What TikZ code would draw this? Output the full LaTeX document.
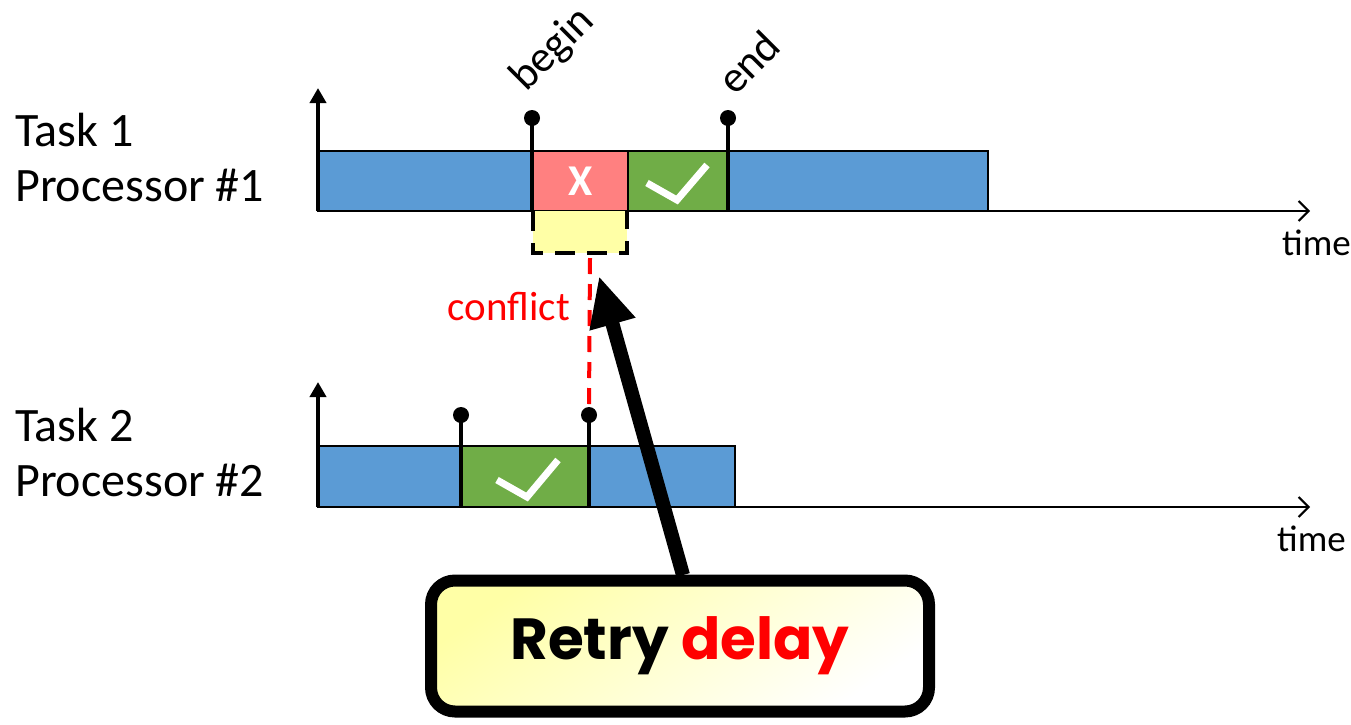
\documentclass[tikz,border=0pt]{standalone}
\usepackage{fontspec}
\setmainfont{Carlito}
\newfontfamily\pop{Poppins}
\usetikzlibrary{arrows.meta,shadows}
\definecolor{bblue}{HTML}{5B9BD5}
\definecolor{rred}{HTML}{FF8080}
\definecolor{ggreen}{HTML}{70AD47}
\definecolor{yfill}{HTML}{FFFFA6}
\begin{document}
\begin{tikzpicture}[x=1pt,y=-1pt,
  bar/.style={draw=black,line width=2pt},
  axis/.style={line width=2pt,-{Straight Barb[length=10pt,width=20pt,line width=2pt]}},
  yaxis/.style={line width=4pt,-{Triangle[length=15pt,width=16pt]}},
  pin/.style={line width=4pt},
  pinhead/.style={circle,fill=black,inner sep=0pt,minimum size=16pt},
  check/.style={white,line width=7pt},
  lbl/.style={font=\fontsize{48}{52}\selectfont,anchor=base west,inner sep=0pt},
  tlbl/.style={font=\fontsize{37}{40}\selectfont,anchor=base west,inner sep=0pt},
  rlbl/.style={font=\fontsize{44}{48}\selectfont,anchor=base west,inner sep=0pt,rotate=45}]
\useasboundingbox (0,0) rectangle (1351,724);
% Task 1
\node[lbl] (t1) at (15,146) {Task 1};
\node[lbl] (p1) at (15,201) {Processor \#1};
\fill[bblue] (318,151) rectangle (988,211);
\fill[rred] (532,151) rectangle (628,211);
\fill[ggreen] (628,151) rectangle (728,211);
\draw[bar] (318,151) rectangle (988,211);
\draw[line width=2pt] (628,151) -- (628,211);
\draw[axis] (318,211) -- (1310,211);
\draw[yaxis] (318,211) -- (318,88);
\node[tlbl] (time1) at (1282,255) {time};
% conflict box
\fill[yfill] (533,211) rectangle (627,253);
\draw[line width=4pt,dash pattern=on 20pt off 12pt] (533,211) -- (533,253) -- (627,253) -- (627,211);
\coordinate (cfl) at (590,253);
% pins task1
\node[pinhead] (b1) at (532,118) {};
\node[pinhead] (e1) at (728,118) {};
\draw[pin] (b1.center) -- (532,211);
\draw[pin] (e1.center) -- (728,211);
\node[font=\bfseries\fontsize{44}{48}\selectfont,white] (x) at (581,181) {X};
\draw[check] (647,183) -- (677,200) -- (707,165);
\node[rlbl] (begin) at (526,93) {begin};
\node[rlbl] (end) at (735,97) {end};
% Task 2
\node[lbl] (t2) at (15,441) {Task 2};
\node[lbl] (p2) at (15,496) {Processor \#2};
\fill[bblue] (318,446) rectangle (735,507);
\fill[ggreen] (461,446) rectangle (589,507);
\draw[bar] (318,446) rectangle (735,507);
\draw[axis] (318,507) -- (1310,507);
\draw[yaxis] (318,507) -- (318,382);
\node[tlbl] (time2) at (1277,551) {time};
\node[pinhead] (b2) at (461,415) {};
\node[pinhead] (e2) at (589,415) {};
\draw[red,line width=4pt,dash pattern=on 16pt off 10pt] (cfl) ++(0,5) -- (e2.north);
\draw[pin] (b2.center) -- (461,507);
\draw[pin] (e2.center) -- (589,507);
\draw[check] (497,480) -- (527,497) -- (558,460);
\node[font=\fontsize{41}{44}\selectfont,red,anchor=base,inner sep=0pt] (conflict) at (509,320) {conflict};
% Retry delay box
\node[draw=black,line width=12pt,rounded corners=24pt,minimum width=498pt,minimum height=131pt,
  shading=axis,top color=yfill,bottom color=white,shading angle=35,
  drop shadow={shadow xshift=3pt,shadow yshift=-3pt,opacity=0.3},
  font=\pop\bfseries\fontsize{58}{62}\selectfont] (retry) at (680,646) {Retry \textcolor{red}{delay}};
\coordinate (tip) at (599,276);
\draw[line width=14pt,-{Triangle[length=50pt,width=44pt]}] (683,575) -- (tip);
\end{tikzpicture}
\end{document}
